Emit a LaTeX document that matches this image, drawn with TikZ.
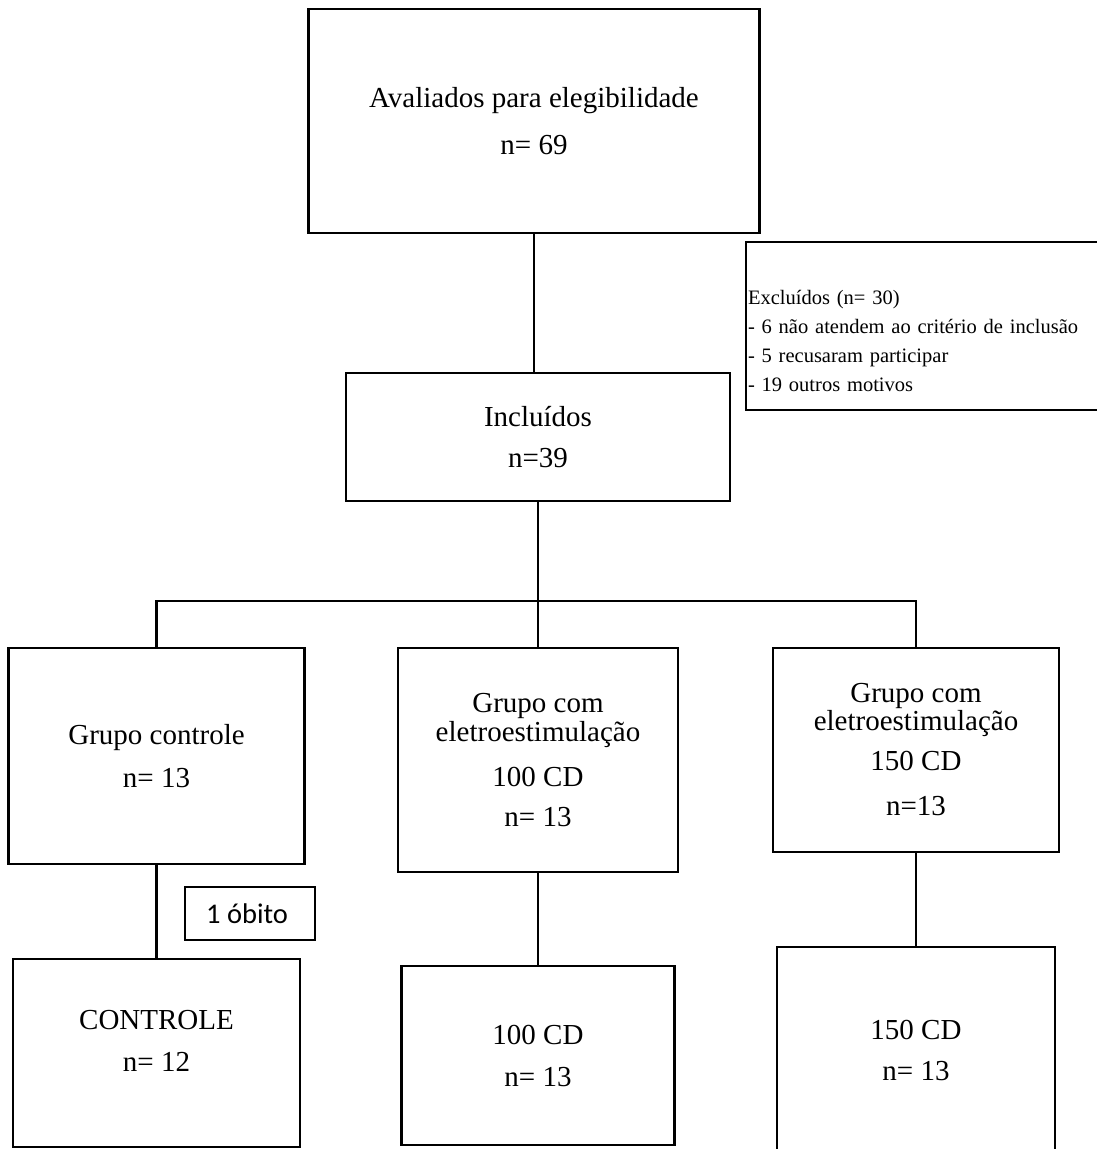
\documentclass[tikz,border=0pt]{standalone}
\usepackage{fontspec}
\setmainfont{Liberation Serif}
\newfontfamily\calfont{Carlito}
\begin{document}
\begin{tikzpicture}[x=1pt,y=-1pt,
  box/.style={draw,line width=2.6pt,inner sep=0pt,align=center,font=\fontsize{29}{47}\selectfont},
  conn/.style={line width=2.6pt,line join=miter},
]
\useasboundingbox (0,0) rectangle (1096,1149);
\fill[white] (0,0) rectangle (1096,1149);

\node[box,minimum width=451pt,minimum height=224pt] (top) at (534,121) {Avaliados para elegibilidade\\n= 69};
\node[box,align=left,font=\fontsize{20.5}{29}\selectfont,text width=360pt,inner xsep=2pt,minimum height=168pt] (excl) at (928,326)
 {\rule{0pt}{15pt}\\Excluídos (n= 30)\\- 6 não atendem ao critério de inclusão\\- 5 recusaram participar\\- 19 outros motivos};
\node[box,minimum width=384pt,minimum height=128pt] (incl) at (538,437) {Incluídos\\[-6pt]n=39};

\node[box,minimum width=296pt,minimum height=216pt] (g1) at (156.5,756) {Grupo controle\\[-4pt]n= 13};
\node[box,minimum width=280pt,minimum height=224pt] (g2) at (538,760) {Grupo com\\[-18pt]eletroestimulação\\[-2pt]100 CD\\[-7pt]n= 13};
\node[box,minimum width=286pt,minimum height=204pt] (g3) at (916,750) {Grupo com\\[-19pt]eletroestimulação\\[-7pt]150 CD\\[-2pt]n=13};

\node[draw,line width=1.3pt,minimum width=130pt,minimum height=53pt,inner sep=0pt,font=\calfont\fontsize{28.5}{34}\selectfont] (ob) at (250,913.5) {\hspace*{-6pt}1 óbito};

\node[box,minimum width=287pt,minimum height=188pt] (c1) at (156.5,1053) {CONTROLE\\[-5pt]n= 12\rule[-24pt]{0pt}{0pt}};
\node[box,minimum width=273pt,minimum height=179pt] (c2) at (538,1055.5) {100 CD\\[-5pt]n= 13};
\node[box,minimum width=278pt,minimum height=206pt] (c3) at (916,1050) {150 CD\\[-6pt]n= 13};

\coordinate (bar) at (538,601);
\draw[conn] (top.south) -- (top.south |- incl.north);
\draw[conn] (incl.south) -- (bar);
\draw[conn] (g1.north) -- (g1.north |- bar) -- (g3.north |- bar) -- (g3.north);
\draw[conn] (bar) -- (g2.north);
\draw[conn] (g1.south) -- (c1.north);
\draw[conn] (g2.south) -- (c2.north);
\draw[conn] (g3.south) -- (c3.north);
\end{tikzpicture}
\end{document}
